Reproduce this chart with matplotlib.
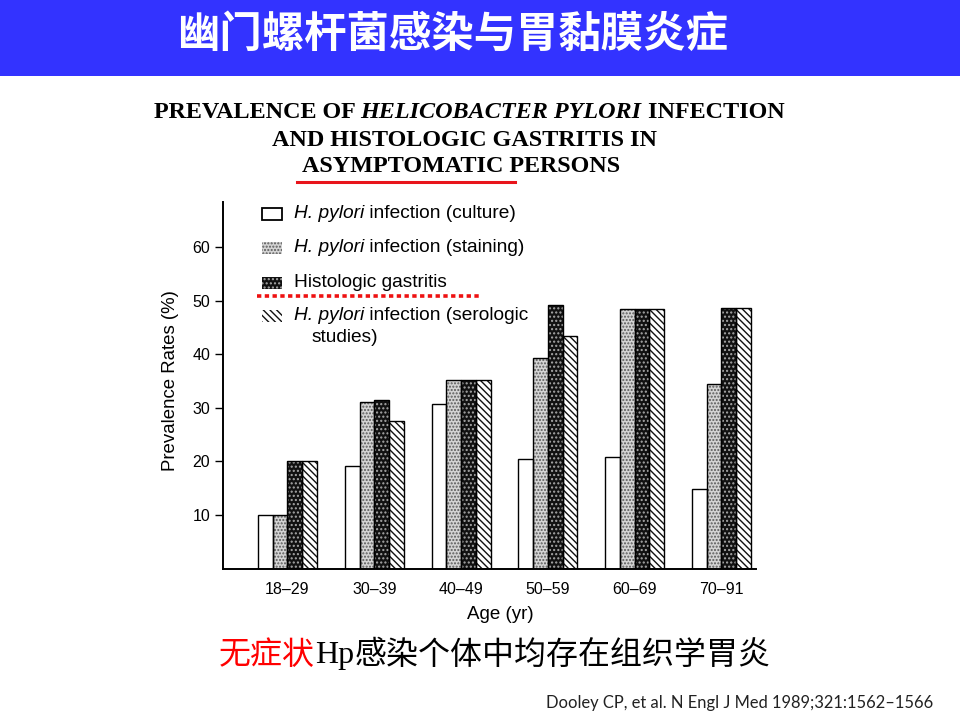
import matplotlib
matplotlib.use("Agg")
import matplotlib.pyplot as plt
import matplotlib.transforms as mtransforms
from matplotlib.patches import Rectangle
from matplotlib.lines import Line2D
import numpy as np

# ---------------- data ----------------
age_groups = ["18–29", "30–39", "40–49", "50–59", "60–69", "70–91"]
culture = [10, 19.2, 30.7, 20.4, 20.8, 14.8]
staining = [10, 31.1, 35.2, 39.3, 48.5, 34.5]
gastritis = [20, 31.4, 35.2, 49.2, 48.5, 48.6]
serologic = [20, 27.5, 35.2, 43.5, 48.5, 48.6]
y_ticks = [10, 20, 30, 40, 50, 60]

header_title = "幽门螺杆菌感染与胃黏膜炎症"
subtitle_red = "无症状"
subtitle_hp = "Hp"
subtitle_rest = "感染个体中均存在组织学胃炎"
footer = "Dooley CP, et al. N Engl J Med 1989;321:1562–1566"

plt.rcParams["font.family"] = ["Liberation Sans", "DejaVu Sans"]
plt.rcParams["hatch.linewidth"] = 1.0

W, H = 960, 720
fig = plt.figure(figsize=(W / 100, H / 100), dpi=100)
fig.patch.set_facecolor("white")
PX = mtransforms.Affine2D().scale(1, -1).translate(0, H)  # top-left pixel coords
renderer = fig.canvas.get_renderer()


def advance(s, **kw):
    t1 = fig.text(0, 0, s + "x", **kw)
    t2 = fig.text(0, 0, "x", **kw)
    w = t1.get_window_extent(renderer).width - t2.get_window_extent(renderer).width
    t1.remove()
    t2.remove()
    return w


def place_runs(segs, x, y, ha="left", va="center"):
    widths = [advance(s, **kw) for s, kw in segs]
    total = sum(widths)
    x0 = x - total / 2 if ha == "center" else x
    for (s, kw), w in zip(segs, widths):
        fig.text(x0, y, s, transform=PX, ha="left", va=va, **kw)
        x0 += w


# ---------------- header ----------------
fig.add_artist(Rectangle((0, 0), W, 76, transform=PX, facecolor="#3333ff",
                         edgecolor="none"))
fig.text(452, 35, header_title, transform=PX, ha="center", va="center",
         color="white", fontsize=30.5, fontweight="bold",
         family=["Noto Sans CJK SC", "DejaVu Sans"])

# ---------------- chart title ----------------
serif_b = dict(family="Liberation Serif", fontweight="bold", fontsize=17.4,
               color="black")
serif_bi = dict(serif_b, fontstyle="italic")
place_runs([("PREVALENCE OF ", serif_b), ("HELICOBACTER PYLORI", serif_bi),
            (" INFECTION", serif_b)], 469, 113, ha="center")
place_runs([("AND HISTOLOGIC GASTRITIS IN", serif_b)], 465, 140, ha="center")
place_runs([("ASYMPTOMATIC PERSONS", serif_b)], 461, 166, ha="center")
fig.add_artist(Line2D([297, 515], [181.5, 181.5], transform=PX, color="#e8141b",
                      lw=2.2))

# ---------------- axes ----------------
left, right, bottom, top = 222.7, 755.7, 568.5, 202
ax = fig.add_axes([left / W, 1 - bottom / H, (right - left) / W, (bottom - top) / H])
ax.set_facecolor("none")

x = np.arange(len(age_groups))
bw = 0.17
styles = [
    dict(vals=culture, face="white", hatch=None, hcol=None),
    dict(vals=staining, face="#d4d4d4", hatch=".....", hcol="#5a5a5a"),
    dict(vals=gastritis, face="#111111", hatch="....", hcol="#a8a8a8"),
    dict(vals=serologic, face="white", hatch="\\\\\\\\\\", hcol="#111111"),
]
for i, st in enumerate(styles):
    xs = x + (i - 1.5) * bw
    ax.bar(xs, st["vals"], bw, color=st["face"], linewidth=0, zorder=2)
    if st["hatch"]:
        ax.bar(xs, st["vals"], bw, fill=False, edgecolor=st["hcol"],
               hatch=st["hatch"], linewidth=0, zorder=2.5)
    ax.bar(xs, st["vals"], bw, fill=False, edgecolor="black", linewidth=1.0,
           zorder=3)

ax.set_xlim(-0.746, 5.394)
ax.set_ylim(0, 68.5)
for s in ["top", "right"]:
    ax.spines[s].set_visible(False)
ax.spines["left"].set_linewidth(1.4)
ax.spines["bottom"].set_linewidth(1.4)
ax.set_yticks(y_ticks)
ax.tick_params(axis="y", length=6, width=1, direction="out", labelsize=11.5,
               pad=3, colors="black")
ax.set_xticks(x, age_groups)
ax.tick_params(axis="x", length=0, pad=10, labelsize=11.5, colors="black")
ax.set_ylabel("Prevalence Rates (%)", fontsize=13.4, color="black")
ax.yaxis.set_label_coords(-0.082, 0.514)
ax.set_xlabel("Age (yr)", fontsize=13.5, color="black")
ax.xaxis.set_label_coords(0.52, -0.103)

# ---------------- legend (manual) ----------------
rows_y = [213.5, 248, 282.5, 316]
leg_labels = [
    [("H. pylori", dict(fontstyle="italic")), (" infection (culture)", {})],
    [("H. pylori", dict(fontstyle="italic")), (" infection (staining)", {})],
    [("Histologic gastritis", {})],
    [("H. pylori", dict(fontstyle="italic")), (" infection (serologic", {})],
]
for st, yy, lab in zip(styles, rows_y, leg_labels):
    fig.add_artist(Rectangle((262, yy - 6), 20, 12, transform=PX,
                             facecolor=st["face"],
                             edgecolor="black" if st["hatch"] is None else "none",
                             linewidth=1.3))
    if st["hatch"]:
        fig.add_artist(Rectangle((262, yy - 6), 20, 12, transform=PX, fill=False,
                                 edgecolor=st["hcol"], hatch=st["hatch"],
                                 linewidth=0))
    segs = [(s, dict(kw, fontsize=13.8, color="black")) for s, kw in lab]
    place_runs(segs, 294, yy)
fig.text(312, 338, "studies)", transform=PX, ha="left", va="center",
         fontsize=13.8, color="black")
fig.add_artist(Line2D([257, 479], [296, 296], transform=PX, color="#ee1111",
                      lw=2.6, linestyle=(0, (1.2, 0.95))))

# ---------------- subtitle & footer ----------------
cjk = ["Noto Sans CJK SC", "DejaVu Sans"]
place_runs([(subtitle_red, dict(family=cjk, fontsize=23, color="#ff0000")),
            (subtitle_hp, dict(family="Liberation Serif", fontsize=23, color="black")),
            (subtitle_rest, dict(family=cjk, fontsize=23, color="black"))],
           219, 655)
fig.text(933, 703, footer, transform=PX, ha="right", va="center",
         fontsize=11.9, family=["Lato", "DejaVu Sans"], color="#222222")

fig.savefig("out.png", dpi=100)
